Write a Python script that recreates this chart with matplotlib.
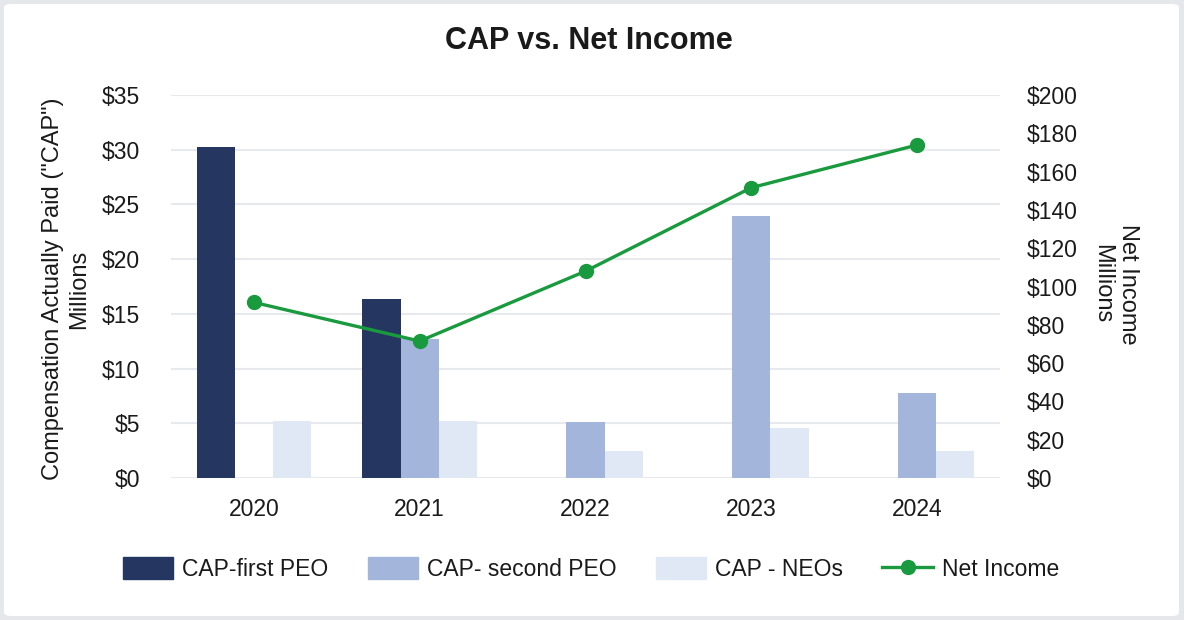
import matplotlib
matplotlib.use("Agg")
import matplotlib.pyplot as plt
import numpy as np
from matplotlib.patches import FancyBboxPatch
from matplotlib.lines import Line2D
from matplotlib.patches import Patch

plt.rcParams['font.family'] = ['Liberation Sans', 'DejaVu Sans']

years = ["2020", "2021", "2022", "2023", "2024"]
cap_first_peo = [30.25, 16.4, 0, 0, 0]
cap_second_peo = [0, 12.7, 5.1, 23.9, 7.75]
cap_neos = [5.25, 5.25, 2.45, 4.55, 2.45]
net_income = [91.7, 71.5, 108.0, 151.6, 173.9]

left_ticks = [0, 5, 10, 15, 20, 25, 30, 35]
right_ticks = [0, 20, 40, 60, 80, 100, 120, 140, 160, 180, 200]

c_first = "#253760"
c_second = "#A3B5DB"
c_neo = "#E1E8F5"
c_line = "#1A9A3E"
txt = "#1a1a1a"

fig = plt.figure(figsize=(11.84, 6.20), dpi=100)
fig.patch.set_facecolor("#E6E7EA")
bg = FancyBboxPatch((4 / 1184, 4 / 620), 1 - 9 / 1184, 1 - 8 / 620,
                    boxstyle="round,pad=0,rounding_size=0.006",
                    transform=fig.transFigure, facecolor="white",
                    edgecolor="none", zorder=-10)
fig.patches.append(bg)

ax = fig.add_axes([171 / 1184, 142 / 620, 829 / 1184, 383 / 620])
ax.set_facecolor("none")
ax2 = ax.twinx()

x = np.arange(len(years))
w = 0.23
ax.bar(x - w, cap_first_peo, w, color=c_first, zorder=2)
ax.bar(x, cap_second_peo, w, color=c_second, zorder=2)
ax.bar(x + w, cap_neos, w, color=c_neo, zorder=2)

ax2.plot(x, net_income, color=c_line, lw=2.4, marker="o", markersize=10, zorder=3)

ax.set_xlim(-0.5, len(years) - 0.5)
ax.set_ylim(0, 35)
ax2.set_ylim(0, 200)
ax.set_yticks(left_ticks)
ax.set_yticklabels([f"${v}" for v in left_ticks])
ax2.set_yticks(right_ticks)
ax2.set_yticklabels([f"${v}" for v in right_ticks])
ax.set_xticks(x)
ax.set_xticklabels(years)

for a in (ax, ax2):
    for s in a.spines.values():
        s.set_visible(False)
    a.tick_params(length=0, labelsize=16.5, colors=txt)
ax.tick_params(axis="y", pad=22.5)
ax2.tick_params(axis="y", pad=19.5)
ax.tick_params(axis="x", pad=14.5)
ax.grid(axis="y", color="#E8E9EC", lw=1.5, zorder=0)
ax.set_axisbelow(True)

fig.text(589 / 1184, 1 - 41 / 620, "CAP vs. Net Income", ha="center",
         va="center", fontsize=22, fontweight="bold", color=txt)

fig.text(66 / 1184, 1 - 289 / 620, 'Compensation Actually Paid ("CAP")\nMillions',
         rotation=90, ha="center", va="center", multialignment="center",
         fontsize=17, color=txt)
fig.text(1115 / 1184, 1 - 284 / 620, "Net Income\nMillions",
         rotation=270, ha="center", va="center", multialignment="center",
         fontsize=17, color=txt)

handles = [Patch(color=c_first), Patch(color=c_second), Patch(color=c_neo),
           Line2D([0], [0], color=c_line, lw=2.4, marker="o", markersize=10)]
labels = ["CAP-first PEO", "CAP- second PEO", "CAP - NEOs", "Net Income"]
fig.legend(handles, labels, loc="center", bbox_to_anchor=(591 / 1184, 1 - 569 / 620),
           ncol=4, frameon=False, fontsize=16.5, handlelength=2.2, handleheight=1.05,
           handletextpad=0.4, columnspacing=1.7, labelcolor=txt)

fig.savefig("out.png", dpi=100)
